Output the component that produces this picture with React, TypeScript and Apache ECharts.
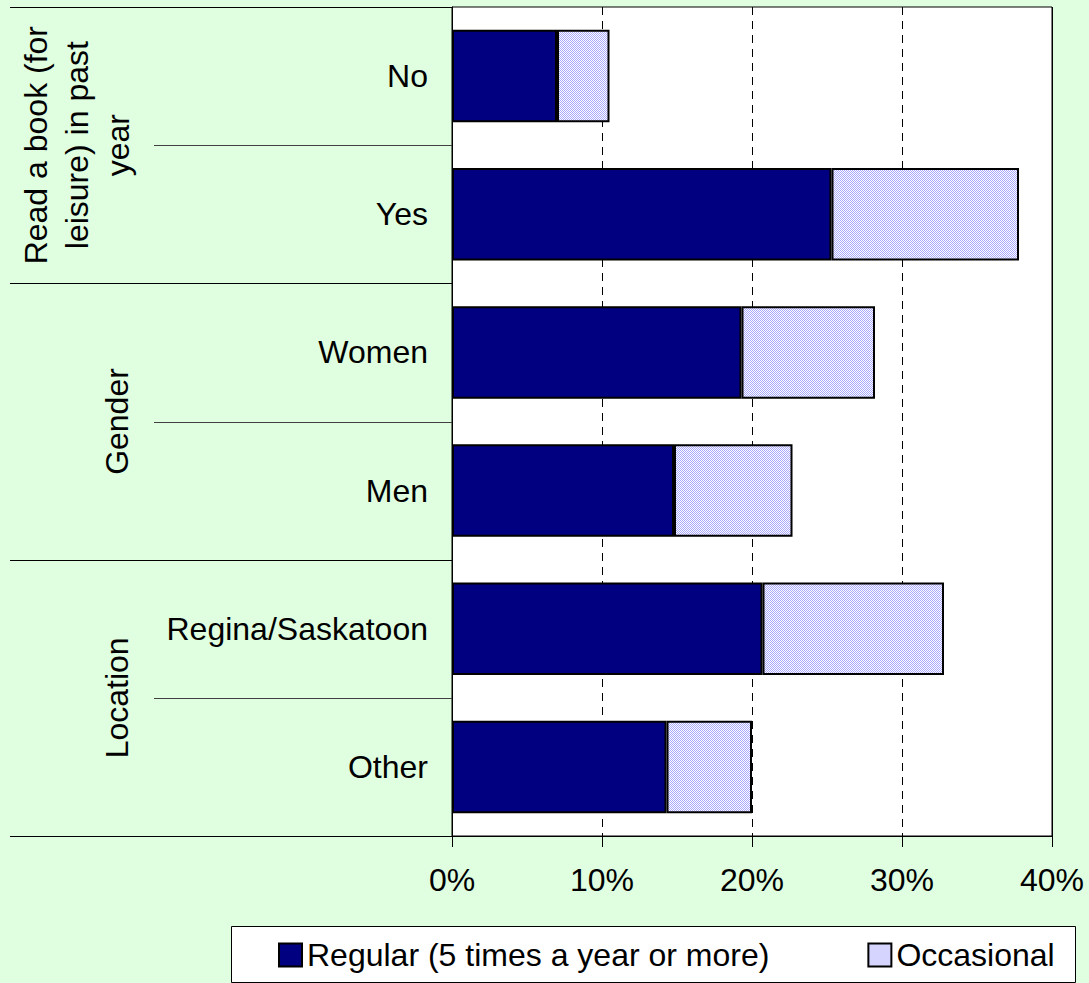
import React, { useEffect, useRef } from "react";
import * as echarts from "echarts";

const categories = ["No", "Yes", "Women", "Men", "Regina/Saskatoon", "Other"];
const regular = [7.0, 25.3, 19.3, 14.8, 20.7, 14.3];
const occasional = [3.5, 12.5, 8.9, 7.9, 12.1, 5.7];
const seriesNames = ["Regular (5 times a year or more)", "Occasional"];
const groupLabels = ["Read a book (for\nleisure) in past\nyear", "Gender", "Location"];
const groupSizes = [2, 2, 2];
const xMin = 0;
const xMax = 40;
const xStep = 10;

const W = 1089;
const H = 983;
const GL = 452;
const GT = 7;
const GR = 1052;
const GB = 836;
const FONT = "'Liberation Sans', Arial, sans-serif";
const FS = 32;

function makePattern(): HTMLCanvasElement {
  const c = document.createElement("canvas");
  c.width = 2;
  c.height = 2;
  const ctx = c.getContext("2d")!;
  ctx.fillStyle = "#ffffff";
  ctx.fillRect(0, 0, 2, 2);
  ctx.fillStyle = "#a8a8ff";
  ctx.fillRect(0, 0, 1, 1);
  ctx.fillRect(1, 1, 1, 1);
  return c;
}

export default function App() {
  const ref = useRef<HTMLDivElement>(null);
  useEffect(() => {
    document.body.style.margin = "0";
    const chart = echarts.init(ref.current!, null, { renderer: "svg" });
    const catH = (GB - GT) / categories.length;
    const graphics: any[] = [];
    const groupBounds = new Set<number>();
    let acc = 0;
    groupBounds.add(0);
    groupSizes.forEach((s) => {
      acc += s;
      groupBounds.add(acc);
    });
    for (let i = 0; i <= categories.length; i++) {
      const y = Math.round(GT + i * catH) + 0.5;
      const isGroup = groupBounds.has(i);
      graphics.push({
        type: "line",
        shape: { x1: isGroup ? 10 : 154, y1: y, x2: GL, y2: y },
        style: { stroke: isGroup ? "#000" : "#404040", lineWidth: 1 },
        z: 1,
      });
    }
    // solid right border of the plot area over the last grid line
    graphics.push({
      type: "line",
      shape: { x1: GR + 0.5, y1: GT, x2: GR + 0.5, y2: GB },
      style: { stroke: "#000", lineWidth: 1 },
      z: 20,
    });
    acc = 0;
    const groupX = [77, 117, 117];
    groupLabels.forEach((g, gi) => {
      const cy = GT + (acc + groupSizes[gi] / 2) * catH;
      acc += groupSizes[gi];
      graphics.push({
        type: "text",
        x: groupX[gi],
        y: cy,
        rotation: Math.PI / 2,
        style: {
          text: g,
          fill: "#000",
          font: `${FS}px ${FONT}`,
          align: "center",
          verticalAlign: "middle",
          lineHeight: 41,
        },
        z: 2,
      });
    });
    graphics.push({
      type: "rect",
      shape: { x: 231.5, y: 926.5, width: 844, height: 56 },
      style: { fill: "#fff", stroke: "#000", lineWidth: 1 },
      z: 0,
    });

    const pattern = makePattern();
    const occColor: any = { image: pattern, repeat: "repeat" };

    chart.setOption({
      animation: false,
      backgroundColor: "#E0FFE0",
      textStyle: { fontFamily: FONT },
      grid: {
        left: GL,
        top: GT,
        right: W - GR,
        bottom: H - GB,
        show: true,
        backgroundColor: "#ffffff",
        borderColor: "#000",
        borderWidth: 1,
      },
      legend: {
        left: 278,
        top: 939,
        padding: 0,
        itemGap: 98,
        itemWidth: 23,
        itemHeight: 23,
        icon: "rect",
        textStyle: { fontSize: FS, color: "#000", fontFamily: FONT },
        data: seriesNames,
        z: 10,
      },
      xAxis: {
        type: "value",
        min: xMin,
        max: xMax,
        interval: xStep,
        axisLine: { show: true, lineStyle: { color: "#000", width: 1 } },
        axisTick: { show: true, length: 11, inside: false, lineStyle: { color: "#000" } },
        axisLabel: {
          formatter: (v: number) => `${v}%`,
          fontSize: FS,
          color: "#000",
          margin: 28,
          fontFamily: FONT,
        },
        splitLine: { show: true, lineStyle: { color: "#000", type: [8, 6], width: 1 } },
      },
      yAxis: {
        type: "category",
        data: categories,
        inverse: true,
        axisLine: { show: true, lineStyle: { color: "#000", width: 1 } },
        axisTick: { show: false },
        axisLabel: { fontSize: FS, color: "#000", margin: 24, fontFamily: FONT },
        splitLine: { show: false },
      },
      series: [
        {
          name: seriesNames[0],
          type: "bar",
          stack: "total",
          data: regular,
          barCategoryGap: "33%",
          itemStyle: { color: "#000080", borderColor: "#000", borderWidth: 2 },
        },
        {
          name: seriesNames[1],
          type: "bar",
          stack: "total",
          data: occasional,
          barCategoryGap: "33%",
          itemStyle: { color: occColor, borderColor: "#000", borderWidth: 2 },
        },
      ],
      graphic: { elements: graphics },
    });
    return () => chart.dispose();
  }, []);
  return <div ref={ref} style={{ width: W, height: H, position: "absolute", left: 0, top: 0 }} />;
}
